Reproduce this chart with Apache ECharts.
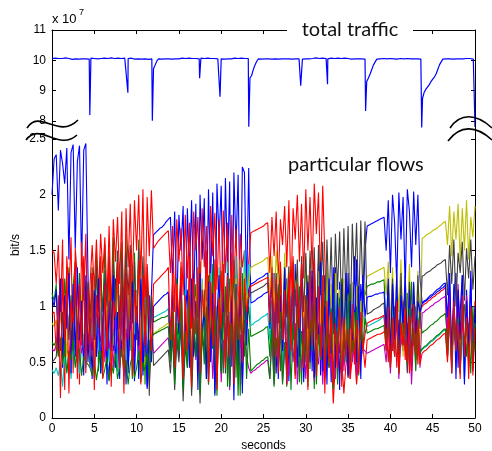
<!DOCTYPE html>
<html><head><meta charset="utf-8">
<script src="https://cdn.jsdelivr.net/npm/echarts@6/dist/echarts.min.js"></script>
<style>html,body{margin:0;padding:0;background:#fff}#c{width:492px;height:451px}</style>
</head><body><div id="c"></div>
<script>
// sampling step of the flow series (seconds)
const timeStep = 0.25;
// ten flows, values in units of 10^7 bit/s
const flowB1 = [2.00,2.32,2.36,1.86,2.40,2.28,2.10,2.42,1.42,2.38,2.45,1.52,2.30,2.44,1.36,2.40,2.46,1.30,
0.45,1.10,0.36,0.92,1.20,0.40,0.82,1.15,0.52,0.34,1.02,0.60,1.25,0.42,0.96,0.55,1.12,0.30,0.86,1.22,0.46,0.72,1.02,0.35,1.16,0.50,0.92,0.26,0.62,1.10,
1.64,1.66,1.68,1.70,1.71,1.73,1.76,1.78,
1.80,1.22,1.85,0.92,1.82,1.50,1.90,0.72,1.88,1.30,1.95,1.02,1.92,0.62,2.00,1.42,1.97,0.82,2.05,1.20,2.02,0.52,2.10,1.60,2.08,0.90,2.15,1.32,2.12,0.46,2.20,1.52,2.18,0.80,2.25,2.20,1.10,2.24,
1.03,1.04,1.05,1.07,1.08,1.09,1.11,1.12,1.13,
1.15,0.62,1.30,0.40,1.05,1.36,0.52,0.88,1.25,0.33,1.10,0.70,1.38,0.45,0.95,1.20,0.36,1.02,0.58,1.32,0.42,1.18,0.75,1.40,0.38,0.90,1.28,0.50,1.12,0.32,0.98,1.35,0.60,1.22,0.44,1.08,0.66,1.30,0.40,1.16,0.85,1.42,0.48,1.20,0.95,1.50,
1.72,1.73,1.74,1.75,1.76,1.77,1.78,1.79,1.80,
1.50,1.95,1.30,2.00,1.75,1.20,2.02,1.60,1.98,1.15,2.05,1.85,1.35,2.03,1.55,2.00,1.25,
1.03,1.05,1.06,1.08,1.10,1.11,1.13,1.15,1.16,1.18,1.20,1.21,
0.55,1.25,0.40,1.10,1.30,0.45,0.95,1.28,0.35,1.15,0.60,1.32,0.42,0.90];
const flowG1 = [1.12,1.05,1.20,0.70,1.15,0.55,1.25,0.90,1.35,0.60,1.18,1.40,0.50,1.30,0.75,1.42,0.62,1.20,
0.48,1.35,0.70,1.50,0.42,1.28,0.95,1.55,0.55,1.40,0.38,1.62,0.80,1.30,0.45,1.58,1.00,1.65,0.50,1.25,0.35,1.48,0.72,1.60,0.44,1.36,0.30,1.20,0.58,1.10,
0.86,0.87,0.88,0.89,0.90,0.90,0.91,0.92,
0.55,1.10,0.40,1.25,0.70,1.35,0.30,1.05,0.62,1.30,0.25,0.95,1.20,0.48,1.40,0.65,1.15,0.35,1.28,0.58,1.38,0.22,1.00,0.75,1.32,0.40,1.18,0.28,1.25,0.66,1.42,0.36,1.10,0.20,1.30,0.55,0.85,1.00,
0.73,0.74,0.75,0.76,0.77,0.78,0.79,0.81,0.82,
0.55,1.05,0.35,0.90,1.20,0.42,0.78,1.15,0.28,1.00,0.60,1.25,0.38,0.85,1.18,0.30,0.95,0.50,1.28,0.44,1.10,0.26,0.88,1.22,0.52,1.05,0.34,1.30,0.62,0.98,0.40,1.15,0.30,0.92,1.25,0.48,1.08,0.36,1.20,0.58,0.95,0.32,1.12,0.70,1.18,1.10,
1.18,1.19,1.20,1.20,1.21,1.22,1.22,1.23,1.24,
0.80,1.15,0.55,1.20,0.70,1.05,0.50,1.18,0.85,0.60,1.12,0.48,1.22,0.75,1.00,0.55,0.90,
0.76,0.78,0.79,0.81,0.83,0.84,0.86,0.87,0.89,0.91,0.92,0.94,
0.70,1.05,0.50,0.98,0.62,1.10,0.45,0.90,1.02,0.55,0.85,0.40,1.00,0.60];
const flowR1 = [1.50,1.48,1.20,1.55,0.90,1.60,0.25,1.45,1.10,1.62,0.40,1.52,1.25,0.30,1.58,1.05,1.65,0.60,
1.20,1.55,1.15,1.60,1.10,1.65,1.30,1.62,1.05,1.72,0.95,1.78,1.40,1.80,1.20,1.85,0.60,1.88,1.35,1.92,1.15,1.95,1.50,2.00,1.25,2.05,0.90,1.98,1.45,2.04,
1.52,1.55,1.58,1.60,1.62,1.64,1.66,1.68,
1.30,1.72,0.95,1.78,1.40,1.70,1.10,1.82,1.25,1.75,0.80,1.85,1.50,1.80,1.05,1.88,1.35,1.72,0.70,1.90,1.45,1.84,1.15,1.78,0.95,1.86,1.30,1.75,0.60,1.82,1.20,1.70,0.90,1.65,1.35,1.50,0.85,1.40,
1.66,1.67,1.68,1.69,1.70,1.71,1.72,1.74,1.75,
1.30,1.80,1.45,1.85,1.20,1.78,1.55,1.90,1.35,1.95,1.10,1.88,1.60,2.00,1.40,1.92,1.25,2.05,1.50,1.98,1.30,2.10,1.65,2.02,1.20,2.08,1.45,
0.55,0.45,0.60,0.13,0.50,0.58,0.40,0.52,0.22,0.48,0.60,0.35,0.55,0.62,0.30,0.58,0.50,0.65,0.45,
0.70,0.71,0.72,0.73,0.74,0.75,0.75,0.76,0.77,
0.85,0.50,0.95,0.60,1.00,0.45,0.88,0.70,1.05,0.52,0.92,0.40,0.98,0.65,0.82,0.48,0.95,
1.00,1.02,1.03,1.05,1.06,1.08,1.09,1.11,1.12,1.14,1.15,1.17,
0.60,1.10,0.45,1.00,0.70,1.15,0.40,0.95,0.55,1.08,0.35,0.90,0.65,1.05];
const flowC = [0.43,0.40,0.45,0.38,0.50,0.28,0.55,0.42,0.60,0.35,0.65,0.48,0.70,0.40,0.62,0.75,0.45,0.68,
0.55,0.85,0.40,0.90,0.60,1.00,0.45,0.80,0.95,0.50,1.05,0.65,0.88,0.42,1.10,0.70,0.95,0.48,1.12,0.60,1.00,0.75,1.15,0.52,0.92,0.68,1.08,0.40,0.85,0.95,
0.90,0.91,0.92,0.93,0.94,0.95,0.96,0.98,
0.60,1.05,0.45,1.10,0.70,0.95,0.40,1.15,0.62,1.00,0.50,1.20,0.75,0.90,0.42,1.25,0.68,1.05,0.55,1.30,0.80,0.98,0.48,1.35,0.72,1.10,0.58,1.40,0.85,1.02,0.50,1.45,0.90,1.20,0.62,1.50,1.10,1.38,
0.83,0.84,0.86,0.87,0.88,0.90,0.91,0.92,0.94,
0.70,1.05,0.50,1.10,0.62,0.95,0.45,1.15,0.75,1.00,0.55,1.20,0.68,0.92,0.48,1.18,0.80,1.05,0.52,1.12,0.65,0.98,0.42,1.22,0.72,1.08,0.58,1.15,0.85,0.95,0.50,1.20,0.66,1.02,0.45,1.10,0.78,0.96,0.55,1.18,0.62,1.05,0.70,1.00,0.58,0.90,
0.82,0.83,0.84,0.85,0.86,0.87,0.88,0.90,0.91,
0.70,0.95,0.55,1.00,0.65,0.90,0.50,1.02,0.72,0.85,0.60,0.98,0.68,0.88,0.55,0.92,0.62,
0.61,0.63,0.64,0.66,0.68,0.69,0.71,0.73,0.74,0.76,0.78,0.79,
0.55,0.85,0.40,0.80,0.60,0.90,0.45,0.75,0.35,0.88,0.50,0.82,0.65,0.70];
const flowM = [0.62,0.60,0.65,0.58,0.68,0.52,0.70,0.62,0.55,0.72,0.60,0.66,0.50,0.74,0.58,0.68,0.62,0.75,
0.78,0.60,0.85,0.55,0.80,0.68,0.90,0.50,0.82,0.62,0.75,0.45,0.88,0.70,0.58,0.92,0.65,0.80,0.48,0.86,0.72,0.55,0.95,0.60,0.78,0.42,0.84,0.66,0.30,0.70,
0.58,0.60,0.62,0.64,0.66,0.68,0.70,0.72,
0.50,0.80,0.35,0.75,0.55,0.88,0.30,0.70,0.62,0.92,0.40,0.78,0.52,0.85,0.28,0.72,0.60,0.90,0.45,0.82,0.35,0.76,0.58,0.95,0.32,0.70,0.50,0.86,0.25,0.80,0.55,0.92,0.40,0.75,0.30,0.88,0.55,0.45,
0.40,0.42,0.43,0.45,0.46,0.48,0.49,0.51,0.52,
0.35,0.70,0.30,0.62,0.45,0.78,0.32,0.58,0.68,0.38,0.75,0.50,0.85,0.30,0.65,0.42,0.80,0.35,0.72,0.55,0.88,0.33,0.60,0.48,0.82,0.30,0.70,0.52,0.90,0.40,0.66,0.35,0.78,0.58,0.95,0.42,0.72,0.36,0.85,0.50,0.68,0.38,0.80,0.55,0.62,0.60,
0.58,0.59,0.60,0.61,0.62,0.63,0.64,0.65,0.66,
0.50,0.85,0.40,0.78,0.55,0.90,0.35,0.72,0.60,0.88,0.42,0.80,0.30,0.75,0.52,0.86,0.45,
0.94,0.95,0.97,0.98,1.00,1.01,1.03,1.04,1.05,1.07,1.08,1.09,
0.80,1.15,0.65,1.05,0.55,1.20,0.75,0.95,0.50,1.10,0.70,1.00,0.60,0.85];
const flowY = [0.85,0.82,0.88,0.60,0.95,0.72,1.00,0.55,0.92,0.80,1.05,0.62,0.98,0.75,1.10,0.58,1.02,0.85,
0.70,1.20,0.50,1.10,0.85,1.30,0.45,1.15,0.75,1.25,0.40,1.05,0.90,1.35,0.55,1.20,0.30,1.28,0.80,1.38,0.50,1.12,0.95,1.40,0.60,1.22,0.42,1.30,0.70,0.95,
0.75,0.77,0.78,0.80,0.81,0.82,0.84,0.85,
0.60,1.10,0.45,1.20,0.80,1.30,0.40,1.05,0.70,1.25,0.35,1.15,0.90,1.35,0.50,1.22,0.65,1.38,0.42,1.10,0.85,1.32,0.30,1.28,0.75,1.40,0.55,1.18,0.95,1.36,0.48,1.25,0.68,1.42,0.60,1.30,1.00,1.20,
1.35,1.36,1.37,1.38,1.39,1.40,1.41,1.43,1.44,
1.10,1.45,0.95,1.50,1.20,1.40,0.80,1.48,1.05,1.35,0.70,1.42,1.15,1.30,0.60,1.38,0.90,1.45,0.55,1.25,1.00,1.40,0.50,1.32,0.85,1.28,0.45,1.35,0.75,1.20,0.40,1.30,0.95,1.15,0.48,1.25,0.70,1.10,0.42,1.22,0.65,1.18,0.55,1.05,0.80,1.15,
1.27,1.28,1.29,1.30,1.31,1.32,1.33,1.34,1.35,
1.10,1.40,0.80,1.35,0.60,1.30,0.95,1.42,0.55,1.25,0.85,1.38,0.50,1.20,0.75,1.32,0.65,
1.61,1.62,1.64,1.65,1.66,1.68,1.69,1.70,1.72,1.73,1.75,1.76,
1.55,1.90,1.45,1.85,1.60,1.92,1.40,1.88,1.50,1.95,1.42,1.80,1.62,1.90];
const flowK = [0.50,0.52,0.55,0.80,0.60,0.95,0.58,1.05,0.70,1.10,0.62,1.15,0.75,1.20,0.68,1.25,0.80,1.22,
0.90,1.30,0.70,1.35,0.95,1.40,0.65,1.32,1.00,1.45,0.75,1.38,1.05,1.50,0.80,1.42,0.60,1.48,1.10,1.55,0.85,1.40,0.70,1.52,1.00,1.45,0.55,1.35,0.20,1.10,
0.47,0.49,0.51,0.53,0.55,0.57,0.59,0.61,
0.40,0.75,0.25,0.70,0.50,0.85,0.15,0.65,0.45,0.90,0.20,0.72,0.55,0.88,0.13,0.78,0.60,0.95,0.30,0.80,0.62,1.00,0.35,0.85,0.70,1.05,0.40,0.92,0.75,1.10,0.50,0.98,0.82,1.12,0.60,1.05,0.88,1.08,
1.12,1.13,1.14,1.15,1.16,1.17,1.18,1.20,1.21,
0.95,1.25,0.70,1.30,0.85,1.28,0.60,1.33,0.90,1.36,0.75,1.40,1.00,1.42,0.65,1.45,0.95,1.48,0.80,1.50,1.05,1.53,0.70,1.55,1.10,1.58,0.85,1.60,1.00,1.62,0.75,1.65,1.15,1.67,0.90,1.70,1.05,1.72,0.80,1.74,1.20,1.75,0.95,1.77,1.10,1.76,
0.93,0.94,0.95,0.97,0.98,0.99,1.00,1.02,1.03,
0.70,1.20,0.50,1.25,0.85,1.10,0.45,1.30,0.75,1.15,0.40,1.22,0.90,1.05,0.55,1.28,0.80,
1.27,1.28,1.30,1.31,1.32,1.34,1.35,1.37,1.38,1.39,1.41,1.42,
1.10,1.55,1.20,1.60,1.00,1.48,1.30,1.58,1.05,1.52,1.25,1.60,1.15,1.45];
const flowB2 = [1.08,1.00,1.15,0.60,1.25,0.45,1.10,0.80,1.30,0.40,1.20,0.55,1.35,0.70,1.05,0.38,1.28,0.50,
0.90,0.35,1.15,0.55,1.25,0.40,0.85,1.20,0.30,1.05,0.60,1.28,0.45,0.95,0.35,1.18,0.70,1.30,0.40,0.88,1.22,0.33,1.00,0.65,1.25,0.38,0.92,0.28,1.10,0.50,
1.00,1.02,1.04,1.06,1.08,1.10,1.11,1.13,
0.60,1.20,0.40,1.10,0.75,1.28,0.30,0.95,1.15,0.45,1.25,0.55,1.05,0.25,1.30,0.70,1.00,0.35,1.22,0.50,1.12,0.20,0.90,1.28,0.42,1.18,0.60,1.30,0.28,1.05,0.16,1.20,0.48,1.25,0.22,1.10,0.65,1.15,
1.20,1.21,1.22,1.24,1.25,1.26,1.27,1.29,1.30,
0.80,1.30,0.45,1.20,0.35,1.10,0.60,1.35,0.30,1.05,0.75,1.28,0.40,1.15,0.55,1.38,0.32,0.98,1.22,0.50,1.32,0.36,1.08,0.68,1.40,0.42,1.00,0.30,1.25,0.58,1.35,0.45,1.12,0.25,1.20,0.62,1.30,0.38,1.05,0.70,1.45,0.50,1.18,0.35,1.28,0.90,
1.08,1.09,1.09,1.10,1.11,1.11,1.12,1.12,1.13,
0.80,1.25,0.55,1.20,0.70,1.30,0.50,1.10,0.85,1.28,0.60,1.15,0.45,1.22,0.75,1.05,0.95,
1.02,1.04,1.05,1.07,1.08,1.10,1.11,1.13,1.14,1.16,1.17,1.19,
0.90,1.30,0.50,1.20,0.35,1.15,0.70,1.28,0.30,1.05,0.60,1.25,0.45,1.00];
const flowG2 = [0.68,0.65,0.70,0.55,0.72,0.48,0.66,0.40,0.60,0.52,0.70,0.45,0.58,0.62,0.38,0.55,0.50,0.48,
0.45,0.38,0.52,0.34,0.48,0.60,0.36,0.44,0.55,0.33,0.50,0.40,0.58,0.35,0.46,0.62,0.38,0.52,0.30,0.48,0.56,0.36,0.45,0.60,0.32,0.50,0.42,0.58,0.38,0.70,
0.75,0.76,0.77,0.78,0.79,0.80,0.81,0.82,
0.50,0.95,0.30,0.85,0.60,1.05,0.25,0.78,0.45,1.10,0.35,0.90,0.55,1.15,0.22,0.82,0.48,1.00,0.30,1.20,0.62,0.88,0.20,1.08,0.40,0.95,0.58,1.18,0.28,0.85,0.50,1.05,0.20,0.92,0.65,1.12,0.35,0.80,
0.42,0.44,0.46,0.48,0.49,0.51,0.52,0.54,0.55,
0.35,0.80,0.28,0.72,0.50,0.95,0.30,0.68,0.45,1.05,0.25,0.85,0.55,1.00,0.32,0.78,0.48,1.10,0.28,0.88,0.60,1.02,0.30,0.75,0.52,1.15,0.36,0.82,0.45,0.98,0.26,0.90,0.58,1.08,0.34,0.80,0.50,1.12,0.40,0.92,0.55,1.00,0.38,0.85,0.62,0.90,
0.76,0.77,0.78,0.79,0.80,0.80,0.81,0.82,0.83,
0.60,0.95,0.45,0.88,0.55,1.00,0.40,0.85,0.65,0.92,0.48,0.98,0.52,0.80,0.42,0.90,0.58,
0.62,0.64,0.65,0.67,0.69,0.70,0.72,0.74,0.75,0.77,0.79,0.80,
0.55,0.95,0.45,1.00,0.60,0.90,0.40,1.05,0.65,0.88,0.50,0.98,0.55,0.85];
const flowR2 = [0.93,0.95,0.60,1.10,0.18,1.25,0.70,1.35,0.22,1.05,0.85,1.40,0.35,1.20,0.65,1.45,0.40,1.15,
0.55,1.30,0.25,1.10,0.80,1.45,0.35,1.20,0.60,1.50,0.28,1.05,0.90,1.40,0.45,1.25,0.22,1.35,0.70,1.48,0.38,1.15,0.85,1.42,0.30,1.28,0.65,1.38,0.95,0.60,
1.20,1.22,1.24,1.26,1.28,1.30,1.32,1.35,
0.70,1.30,0.45,1.20,0.85,1.40,0.35,1.10,0.60,1.45,0.28,1.25,0.75,1.35,0.40,1.15,0.90,1.50,0.32,1.22,0.65,1.42,0.25,1.08,0.80,1.38,0.45,1.28,0.55,1.48,0.30,1.18,0.70,1.35,0.50,1.25,0.95,1.10,
1.18,1.19,1.20,1.21,1.22,1.23,1.24,1.25,1.26,
0.85,1.35,0.55,1.25,0.40,1.40,0.70,1.15,0.30,1.30,0.60,1.45,0.35,1.20,0.80,1.38,0.45,1.10,0.25,1.32,0.65,1.42,0.38,1.18,0.55,1.28,0.22,1.05,0.50,0.95,0.30,0.85,0.45,1.00,0.28,0.90,0.55,0.80,0.35,1.02,0.48,0.88,0.40,0.95,0.60,0.75,
0.85,0.86,0.87,0.88,0.89,0.89,0.90,0.91,0.92,
0.60,1.00,0.45,0.90,0.55,1.05,0.40,0.85,0.65,0.98,0.50,0.92,0.42,1.02,0.58,0.88,0.48,
0.58,0.60,0.61,0.63,0.65,0.66,0.68,0.70,0.71,0.73,0.75,0.76,
0.50,0.95,0.40,1.05,0.60,0.85,0.35,1.10,0.55,0.90,0.45,1.00,0.38,0.80];

// total traffic (units of 10^7 bit/s), sampled every 0.2 s, plus the loss dips
const trafficStep = 0.2;
const trafficBase = [
10.06,10.04,10.07,10.05,10.06,10.03,10.06,10.05,10.08,10.04,
10.06,10.05,10.03,10.07,10.05,10.06,10.04,10.06,10.05,10.07,
10.05,10.06,10.04,10.07,10.05,10.06,10.08,10.05,10.04,10.06,
10.05,10.07,10.04,10.06,10.05,10.08,10.05,10.06,10.03,10.07,
10.05,10.06,10.04,10.07,10.05,10.06,10.03,10.07,10.05,10.04,
10.06,10.05,10.08,10.04,10.06,10.05,10.07,10.03,10.06,10.05,
9.72,9.85,9.98,10.05,10.07,10.04,10.06,10.05,10.08,10.05,
10.06,10.04,10.07,10.05,10.06,10.05,10.04,10.07,10.05,10.06,
10.05,10.07,10.04,10.06,10.05,10.06,10.04,10.05,10.07,10.05,
10.06,10.04,10.07,10.05,10.06,10.03,10.06,10.08,10.05,10.06,
10.05,10.06,10.04,10.07,10.05,10.06,10.05,10.04,10.07,10.05,
10.06,10.05,10.07,10.04,10.06,10.05,10.06,9.42,9.50,9.70,
9.85,9.97,10.05,10.07,10.04,10.06,10.05,10.08,10.05,10.06,
10.04,10.07,10.05,10.06,10.04,10.08,10.05,10.06,10.05,10.07,
10.05,10.06,10.04,10.07,10.05,10.06,10.05,10.07,10.04,10.06,
10.05,10.07,10.05,10.04,10.06,10.05,10.08,10.05,10.06,10.04,
10.07,10.05,10.06,10.05,10.04,10.07,10.05,10.06,10.05,10.07,
10.05,10.06,10.04,10.07,10.05,10.06,10.05,10.04,10.07,10.05,
10.06,10.05,10.07,10.05,10.06,10.04,9.30,9.42,9.55,9.70,
9.85,9.95,10.04,10.08,10.05,10.10,10.06,10.09,10.05,10.08,
10.06,10.10,10.05,10.08,10.04,10.09,10.06,10.10,10.05,10.07,
10.06,10.08,10.05,10.07,10.05,10.06,10.05,10.06,10.04,8.75,
8.95,9.05,9.10,9.20,9.30,9.38,9.45,9.55,9.70,9.85,
9.95,10.04,10.06,10.05,10.07,10.05,10.06,10.04,10.06,10.05,
10.06,10.05,10.07,10.05,10.04,10.06,10.05,10.06,10.05,10.04,
7.80];
const trafficDips = [[4.47,8.20],[8.97,8.93],[11.86,8.01],[17.45,9.41],[19.86,8.80],[23.26,7.81],[29.40,9.16],[32.57,9.21],[37.07,8.33],[43.70,7.79]];

const topTicks = [8, 9, 10, 11];
const bottomTicks = [0, 0.5, 1, 1.5, 2, 2.5];

const flows = [
  {name:'flow 1', color:'#0000FF', data:flowB1},
  {name:'flow 2', color:'#008000', data:flowG1},
  {name:'flow 3', color:'#FF0000', data:flowR1},
  {name:'flow 4', color:'#00BFBF', data:flowC},
  {name:'flow 5', color:'#BF00BF', data:flowM},
  {name:'flow 6', color:'#BFBF00', data:flowY},
  {name:'flow 7', color:'#404040', data:flowK},
  {name:'flow 8', color:'#0000FF', data:flowB2},
  {name:'flow 9', color:'#008000', data:flowG2},
  {name:'flow 10', color:'#FF0000', data:flowR2}
];

function toPairs(arr, step){ return arr.map((v,i)=>[+(i*step).toFixed(3), v]); }
const trafficData = toPairs(trafficBase, trafficStep).concat(trafficDips).sort((a,b)=>a[0]-b[0]);

const FONT = "'Liberation Sans', Arial, sans-serif";
const lineAxis = {show:true, onZero:false, lineStyle:{color:'#000', width:1}};
const tickIn = {show:true, inside:true, length:4, lineStyle:{color:'#000', width:1}};
const labelStyle = {color:'#000', fontSize:12, fontFamily:FONT};

const chart = echarts.init(document.getElementById('c'), null, {renderer:'canvas'});
chart.setOption({
  animation:false,
  backgroundColor:'#fff',
  grid:[
    {left:52, right:17, top:30, height:91, containLabel:false, outerBoundsMode:'none'},
    {left:52, right:17, top:139, bottom:33, containLabel:false, outerBoundsMode:'none'}
  ],
  xAxis:[
    {gridIndex:0, type:'value', min:0, max:50, interval:5, position:'top',
     axisLine:lineAxis, axisTick:tickIn, axisLabel:{show:false}, splitLine:{show:false}},
    {gridIndex:1, type:'value', min:0, max:50, interval:5, position:'bottom',
     axisLine:lineAxis, axisTick:tickIn, axisLabel:Object.assign({margin:5}, labelStyle), splitLine:{show:false},
     name:'seconds', nameLocation:'middle', nameGap:20, nameTextStyle:{color:'#000', fontSize:12, fontFamily:FONT}}
  ],
  yAxis:[
    {gridIndex:0, type:'value', min:topTicks[0], max:topTicks[topTicks.length-1], interval:1, position:'left',
     axisLine:lineAxis, axisTick:tickIn, axisLabel:Object.assign({margin:6}, labelStyle), splitLine:{show:false}},
    {gridIndex:0, type:'value', min:topTicks[0], max:topTicks[topTicks.length-1], interval:1, position:'right',
     axisLine:lineAxis, axisTick:tickIn, axisLabel:{show:false}, splitLine:{show:false}},
    {gridIndex:1, type:'value', min:bottomTicks[0], max:bottomTicks[bottomTicks.length-1], interval:0.5, position:'left',
     axisLine:lineAxis, axisTick:tickIn, axisLabel:Object.assign({margin:6}, labelStyle), splitLine:{show:false}},
    {gridIndex:1, type:'value', min:bottomTicks[0], max:bottomTicks[bottomTicks.length-1], interval:0.5, position:'right',
     axisLine:lineAxis, axisTick:tickIn, axisLabel:{show:false}, splitLine:{show:false}}
  ],
  series:[
    {name:'total traffic', type:'line', xAxisIndex:0, yAxisIndex:0, data:trafficData, showSymbol:false,
     clip:false, lineStyle:{color:'#0000FF', width:1.2}, itemStyle:{color:'#0000FF'}, z:3}
  ].concat(flows.map(f=>({
    name:f.name, type:'line', xAxisIndex:1, yAxisIndex:2, data:toPairs(f.data, timeStep),
    showSymbol:false, lineStyle:{color:f.color, width:1.1}, itemStyle:{color:f.color}
  }))),
  graphic:[
    {type:'line', shape:{x1:52.5, y1:121, x2:52.5, y2:139}, style:{stroke:'#000', lineWidth:1}, z:100},
    {type:'line', shape:{x1:475.5, y1:121, x2:475.5, y2:139}, style:{stroke:'#000', lineWidth:1}, z:100},
    {type:'bezierCurve', shape:{x1:27, y1:128, cpx1:40, cpy1:108, cpx2:58, cpy2:140, x2:78, y2:120}, style:{stroke:'#000', lineWidth:1.6, fill:'none'}, z:101},
    {type:'bezierCurve', shape:{x1:26, y1:140, cpx1:40, cpy1:121, cpx2:58, cpy2:152, x2:77, y2:135}, style:{stroke:'#000', lineWidth:1.6, fill:'none'}, z:101},
    {type:'bezierCurve', shape:{x1:450, y1:128, cpx1:460, cpy1:113, cpx2:476, cpy2:113, x2:492, y2:128}, style:{stroke:'#000', lineWidth:1.6, fill:'none'}, z:101},
    {type:'bezierCurve', shape:{x1:448, y1:141, cpx1:460, cpy1:125, cpx2:476, cpy2:125, x2:492, y2:140}, style:{stroke:'#000', lineWidth:1.6, fill:'none'}, z:101},
    {type:'rect', shape:{x:287, y:20, width:126, height:20}, style:{fill:'#fff'}, z:102},
    {type:'text', x:350, y:30, style:{text:'total traffic', fill:'#111', font:"20px Lato, 'Open Sans', sans-serif", textAlign:'center', textVerticalAlign:'middle'}, z:103},
    {type:'text', x:288, y:165, style:{text:'particular flows', fill:'#111', font:"20px Lato, 'Open Sans', sans-serif", textAlign:'left', textVerticalAlign:'middle'}, z:103},
    {type:'text', x:52, y:19, style:{text:'x 10', fill:'#000', font:"13px 'Liberation Sans', Arial, sans-serif", textAlign:'left', textVerticalAlign:'middle'}, z:103},
    {type:'text', x:79, y:13, style:{text:'7', fill:'#000', font:"9px 'Liberation Sans', Arial, sans-serif", textAlign:'left', textVerticalAlign:'middle'}, z:103},
    {type:'text', x:16, y:245, rotation:Math.PI/2, style:{text:'bit/s', fill:'#000', font:"12px 'Liberation Sans', Arial, sans-serif", textAlign:'center', textVerticalAlign:'middle'}, z:103}
  ]
});
</script>
</body></html>
